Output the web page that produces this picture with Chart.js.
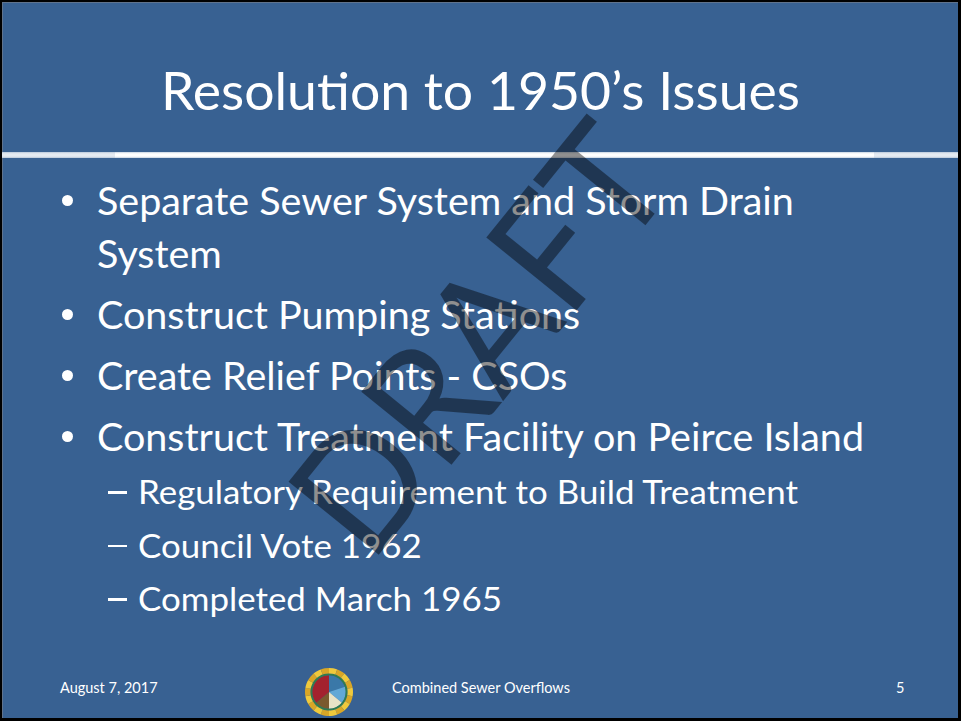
<!DOCTYPE html>
<html>
<head>
<meta charset="utf-8">
<script src="https://cdn.jsdelivr.net/npm/chart.js@4.4.1/dist/chart.umd.min.js"></script>
<style>
  html, body { margin: 0; padding: 0; width: 961px; height: 721px; overflow: hidden; background: #000; }
  #slide {
    position: absolute; left: 2px; top: 2px; width: 956px; height: 716px;
    background: #386192; overflow: hidden; color: #fff;
    font-family: Lato, "Open Sans", sans-serif;
    box-shadow: inset 1px 1px 0 #60738c;
  }
  .fit { display: inline-block; white-space: nowrap; transform-origin: 0 50%; }
  #title { position: absolute; left: 0; width: 956px; top: 87.5px; height: 0; line-height: 0; font-size: 53px; text-align: center; }
  #title .fit { transform-origin: 50% 50%; }
  .rule { position: absolute; top: 150px; height: 6px; }
  #points { position: absolute; left: 0; top: 171.8px; margin: 0; padding: 0; list-style: none; }
  #points > li { position: relative; font-size: 38px; line-height: 53px; margin-top: 8px; padding-left: 95px; }
  #points > li:first-child { margin-top: 0; }
  #points > li .line { display: block; height: 53px; }
  .dot { position: absolute; left: 60px; top: 21px; width: 11px; height: 11px; border-radius: 50%; background: #fff; }
  #subpoints { margin: 2.5px 0 0 -95px; padding: 0; list-style: none; }
  #subpoints li { position: relative; font-size: 33.5px; line-height: 53.5px; padding-left: 136px; }
  .dash { position: absolute; left: 106px; top: 26px; width: 19px; height: 2.5px; background: #fff; }
  .foot { position: absolute; height: 0; line-height: 0; top: 686.4px; font-size: 14.5px; white-space: nowrap; }
  #sealBox { position: absolute; left: 303px; top: 665px; width: 48px; height: 50px; }
  #watermark {
    position: absolute; left: 474px; top: 334px; height: 0; line-height: 0;
    font-size: 162px; font-weight: 400; color: rgba(0, 0, 0, 0.44);
    pointer-events: none; white-space: nowrap;
  }
</style>
</head>
<body>
<div id="slide">
  <div id="title"></div>
  <div class="rule" style="left:-2px;width:115px;background:linear-gradient(#b9c8da,#e4eaf1 30%,#e4eaf1 70%,#b9c8da)"></div>
  <div class="rule" style="left:113px;width:759px;background:linear-gradient(#c6d3e2,#fff 30%,#fff 70%,#c6d3e2)"></div>
  <div class="rule" style="left:872px;width:90px;background:linear-gradient(#b9c8da,#e4eaf1 30%,#e4eaf1 70%,#b9c8da)"></div>
  <ul id="points"></ul>
  <div class="foot" id="footDate" style="left:58px"></div>
  <div id="sealBox"><canvas id="seal" width="48" height="50"></canvas></div>
  <div class="foot" id="footTitle" style="left:390px"></div>
  <div class="foot" id="footNum" style="left:894px"></div>
  <div id="watermark"></div>
</div>
<script>
// slide text
const titleText = 'Resolution to 1950’s Issues';
const mainPoints = [
  ['Separate Sewer System and Storm Drain', 'System'],
  ['Construct Pumping Stations'],
  ['Create Relief Points - CSOs'],
  ['Construct Treatment Facility on Peirce Island'],
];
const subPoints = ['Regulatory Requirement to Build Treatment', 'Council Vote 1962', 'Completed March 1965'];
const footerDate = 'August 7, 2017';
const footerTitle = 'Combined Sewer Overflows';
const slideNumber = '5';
const watermarkText = 'DRAFT';

// city seal, drawn as a pie: serrated gold ring, green band, scene in the middle
const sealRing = [1, 1, 1, 1, 1, 1, 1, 1, 1, 1, 1, 1, 1, 1, 1, 1, 1, 1];
const sealBand = [1];
const sealScene = [20, 16, 14, 14, 36];

const RING_COLORS = ['#efc93c', '#d8a626'];
const SCENE_COLORS = ['#3a78a8', '#62a8d6', '#e9e3c6', '#7a5a2e', '#a3222e'];

function span(text) {
  const s = document.createElement('span');
  s.className = 'fit';
  s.textContent = text;
  return s;
}

const titleFit = [];
const mainFit = [];
const subFit = [];
const title = span(titleText);
document.getElementById('title').appendChild(title);
titleFit.push(title);

const list = document.getElementById('points');
mainPoints.forEach((lines, i) => {
  const li = document.createElement('li');
  const dot = document.createElement('span');
  dot.className = 'dot';
  li.appendChild(dot);
  lines.forEach(t => {
    const row = document.createElement('span');
    row.className = 'line';
    const s = span(t);
    row.appendChild(s);
    mainFit.push(s);
    li.appendChild(row);
  });
  if (i === mainPoints.length - 1) {
    const sub = document.createElement('ul');
    sub.id = 'subpoints';
    subPoints.forEach(t => {
      const sli = document.createElement('li');
      const dash = document.createElement('span');
      dash.className = 'dash';
      sli.appendChild(dash);
      const s = span(t);
      sli.appendChild(s);
      subFit.push(s);
      sub.appendChild(sli);
    });
    li.appendChild(sub);
  }
  list.appendChild(li);
});

document.getElementById('footDate').textContent = footerDate;
document.getElementById('footTitle').textContent = footerTitle;
document.getElementById('footNum').textContent = slideNumber;

// Calibri is not installed; stretch the substitute so the widest line of each level keeps its width
function squeeze(group, width) {
  const widest = Math.max(...group.map(s => s.getBoundingClientRect().width));
  const k = (width / widest).toFixed(4);
  group.forEach(s => { s.style.transform = 'scaleX(' + k + ')'; });
}
squeeze(titleFit, 639);
squeeze(mainFit, 767);
squeeze(subFit, 660);

const wm = document.getElementById('watermark');
wm.textContent = watermarkText;
const wmScale = 490 / wm.getBoundingClientRect().width;
wm.style.transform = 'translate(-50%, 0) rotate(-51deg) scaleX(' + wmScale.toFixed(4) + ')';

new Chart(document.getElementById('seal'), {
  type: 'pie',
  data: {
    datasets: [
      { data: sealRing, backgroundColor: sealRing.map((_, i) => RING_COLORS[i % 2]), weight: 1 },
      { data: sealBand, backgroundColor: '#2f7d4f', weight: 0.35 },
      { data: sealScene, backgroundColor: SCENE_COLORS, weight: 3.1 },
    ],
  },
  options: {
    responsive: false,
    animation: false,
    events: [],
    layout: { padding: 0 },
    elements: { arc: { borderWidth: 0 } },
    plugins: { legend: { display: false }, tooltip: { enabled: false } },
  },
});
</script>
</body>
</html>
